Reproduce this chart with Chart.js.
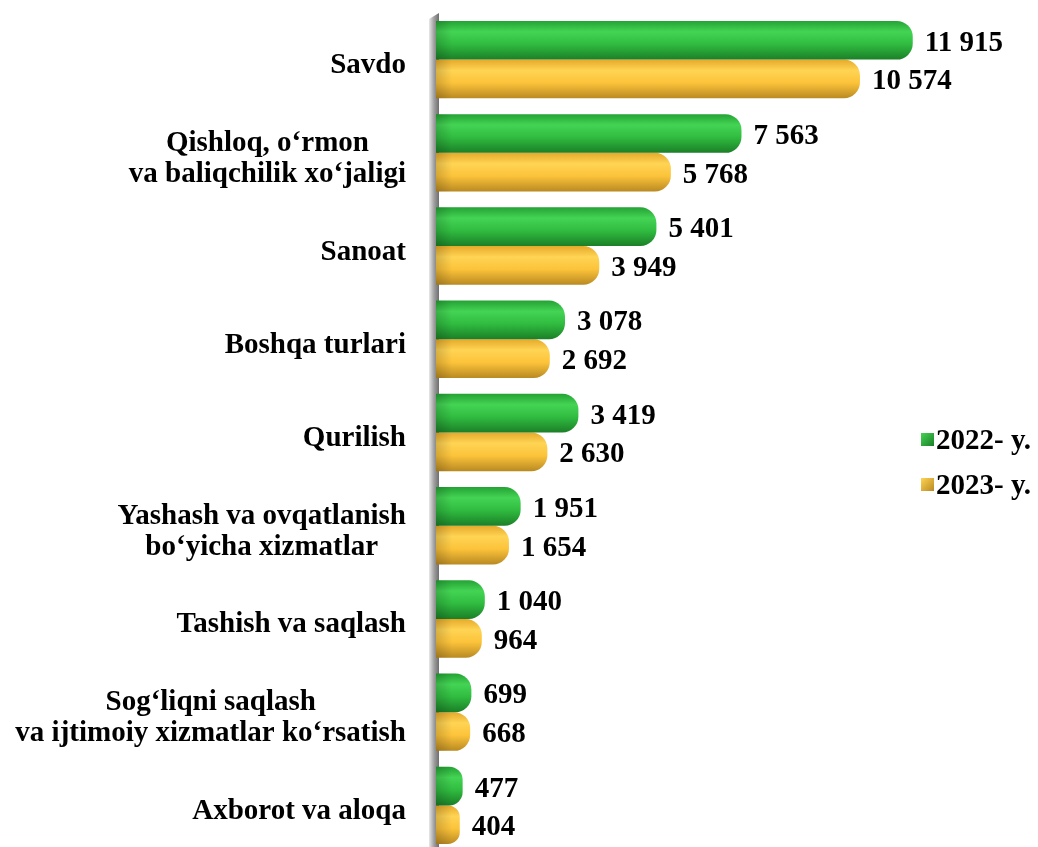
<!DOCTYPE html>
<html>
<head>
<meta charset="utf-8">
<script src="https://cdn.jsdelivr.net/npm/chart.js@4.4.1/dist/chart.umd.min.js"></script>
<style>
  html, body { margin: 0; padding: 0; background: #fff; overflow: hidden; }
  #wrap { position: absolute; left: 0; top: 0; width: 1038px; height: 860px; }
</style>
</head>
<body>
<div id="wrap"><canvas id="chart" width="1038" height="860"></canvas></div>
<script>
// categories (multi-line labels) and values, thousands
const categories = [
  ['Savdo'],
  ['Qishloq, o‘rmon', 'va baliqchilik xo‘jaligi'],
  ['Sanoat'],
  ['Boshqa turlari'],
  ['Qurilish'],
  ['Yashash va ovqatlanish', 'bo‘yicha xizmatlar'],
  ['Tashish va saqlash'],
  ['Sog‘liqni saqlash', 'va ijtimoiy xizmatlar ko‘rsatish'],
  ['Axborot va aloqa']
];
const seriesNames = ['2022- y.', '2023- y.'];
const values2022 = [11915, 7563, 5401, 3078, 3419, 1951, 1040, 699, 477];
const values2023 = [10574, 5768, 3949, 2692, 2630, 1654, 964, 668, 404];

const FONT = 'bold 29px "Liberation Serif", "Times New Roman", serif';
const X_MIN = -200; // bars start a little behind the wall (3D cap)

// colour stops for the cylinder look: top edge, highlight, body, bottom
const palettes = [
  ['#24a234', '#44d454', '#30bc40', '#1b7f27'],
  ['#e6a92a', '#ffd454', '#fcc33a', '#b98a22']
];

function fmt(v) {
  return String(v).replace(/\B(?=(\d{3})+(?!\d))/g, ' ');
}

function barFill(idx) {
  return ctx => {
    const el = ctx.element;
    const pal = palettes[idx];
    if (!el || el.y == null || !isFinite(el.y)) return pal[2];
    const top = el.y - el.height / 2, bot = el.y + el.height / 2;
    const g = ctx.chart.ctx.createLinearGradient(0, top, 0, bot);
    g.addColorStop(0, pal[0]);
    g.addColorStop(0.28, pal[1]);
    g.addColorStop(0.6, pal[2]);
    g.addColorStop(1, pal[3]);
    return g;
  };
}

// grey wall behind the bars
const wallPlugin = {
  id: 'wall',
  beforeDatasetsDraw(chart) {
    const c = chart.ctx, a = chart.chartArea;
    const x0 = a.left - 7;
    const g = c.createLinearGradient(x0, 0, a.left + 3, 0);
    g.addColorStop(0, '#e8e8e8');
    g.addColorStop(0.5, '#a0a0a0');
    g.addColorStop(1, '#6e6e6e');
    c.save();
    c.fillStyle = g;
    c.beginPath();
    c.moveTo(x0, a.top + 6);
    c.lineTo(a.left + 3, a.top);
    c.lineTo(a.left + 3, chart.height);
    c.lineTo(x0, chart.height);
    c.closePath();
    c.fill();
    c.restore();
  }
};

// category labels, value labels and legend
const textPlugin = {
  id: 'texts',
  afterDatasetsDraw(chart) {
    const c = chart.ctx, a = chart.chartArea;
    const yScale = chart.scales.y;
    c.save();
    c.font = FONT;
    c.textBaseline = 'middle';

    // shading on the bar roots
    chart.data.datasets.forEach((ds, di) => {
      chart.getDatasetMeta(di).data.forEach(bar => {
        const g = c.createLinearGradient(a.left, 0, a.left + 16, 0);
        g.addColorStop(0, 'rgba(0,0,0,0.16)');
        g.addColorStop(1, 'rgba(0,0,0,0)');
        c.fillStyle = g;
        c.fillRect(a.left, bar.y - bar.height / 2, 16, bar.height);
      });
    });
    c.fillStyle = '#000';

    // category labels
    const right = 406, lh = 31, dy = 6;
    categories.forEach((lines, i) => {
      const cy = yScale.getPixelForValue(i) + dy;
      const w = Math.max(...lines.map(t => c.measureText(t).width));
      const cx = right - w / 2;
      c.textAlign = 'center';
      lines.forEach((t, k) => {
        c.fillText(t, cx, cy + (k - (lines.length - 1) / 2) * lh);
      });
    });

    // value labels
    c.textAlign = 'left';
    chart.data.datasets.forEach((ds, di) => {
      chart.getDatasetMeta(di).data.forEach((bar, i) => {
        c.fillText(fmt(ds.data[i]), bar.x + 12, bar.y + 3);
      });
    });

    // legend
    const lx = 921;
    [440, 485].forEach((ly, k) => {
      const pal = palettes[k];
      const g = c.createLinearGradient(lx, ly - 7, lx + 13, ly + 6);
      g.addColorStop(0, pal[1]);
      g.addColorStop(1, pal[3]);
      c.fillStyle = g;
      c.fillRect(lx, ly - 7, 13, 13);
      c.fillStyle = '#000';
      c.fillText(seriesNames[k], lx + 15, ly + 2);
    });
    c.restore();
  }
};

const chart = new Chart(document.getElementById('chart'), {
  type: 'bar',
  data: {
    labels: categories,
    datasets: [
      { label: seriesNames[0], data: values2022, backgroundColor: barFill(0) },
      { label: seriesNames[1], data: values2023, backgroundColor: barFill(1) }
    ]
  },
  options: {
    indexAxis: 'y',
    responsive: false,
    animation: false,
    devicePixelRatio: 1,
    layout: { padding: { left: 436, right: 1.5, top: 13, bottom: 8 } },
    datasets: {
      bar: {
        base: X_MIN,
        categoryPercentage: 0.83,
        barPercentage: 1,
        borderRadius: 16,
        borderSkipped: 'start'
      }
    },
    scales: {
      x: { display: false, min: X_MIN, max: 15060 },
      y: { display: false }
    },
    plugins: {
      legend: { display: false },
      tooltip: { enabled: false }
    }
  },
  plugins: [wallPlugin, textPlugin]
});
// second pass so the gradients can use the laid-out bar positions
chart.update('none');
</script>
</body>
</html>
